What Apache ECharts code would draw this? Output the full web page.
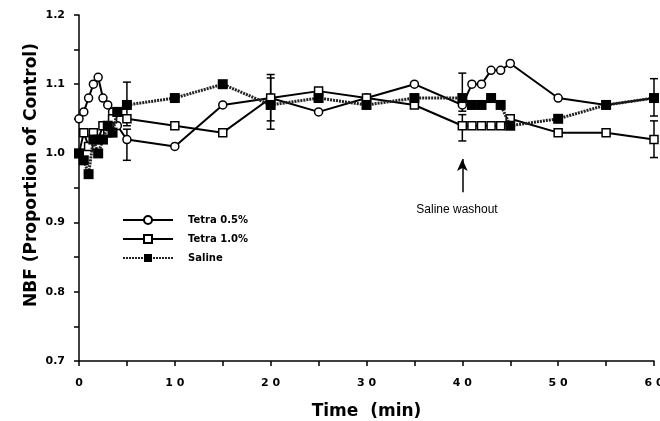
<!DOCTYPE html>
<html><head><meta charset="utf-8">
<script src="https://cdn.jsdelivr.net/npm/echarts@6/dist/echarts.min.js"></script>
<style>html,body{margin:0;padding:0;background:#fff}#c{width:660px;height:421px}</style>
</head><body><div id="c"></div>
<script>
const times   = [0,0.5,1,1.5,2,2.5,3,3.5,4,5,10,15,20,25,30,35,40,41,42,43,44,45,50,55,60];
const tetra05 = [1.05,1.06,1.08,1.10,1.11,1.08,1.07,1.06,1.04,1.02,1.01,1.07,1.08,1.06,1.08,1.10,1.07,1.10,1.10,1.12,1.12,1.13,1.08,1.07,1.08];
const tetra10 = [1.00,1.03,1.01,1.03,1.02,1.04,1.03,1.05,1.06,1.05,1.04,1.03,1.08,1.09,1.08,1.07,1.04,1.04,1.04,1.04,1.04,1.05,1.03,1.03,1.02];
const saline  = [1.00,0.99,0.97,1.02,1.00,1.02,1.04,1.03,1.06,1.07,1.08,1.10,1.07,1.08,1.07,1.08,1.08,1.07,1.07,1.08,1.07,1.04,1.05,1.07,1.08];
const errTimes = [5,5,20,20,40,40,60,60];
const errLow   = [0.99,1.04,1.035,1.047,1.018,1.061,0.994,1.054];
const errHigh  = [1.035,1.103,1.114,1.109,1.056,1.116,1.047,1.108];
const xTickLabels = ['0','1 0','2 0','3 0','4 0','5 0','6 0'];
const yTickLabels = ['0.7','0.8','0.9','1.0','1.1','1.2'];
const washoutArrow = [[40,0.944],[40,0.992]];
const seriesNames = ['Tetra 0.5%','Tetra 1.0%','Saline'];

const pair = arr => times.map((t,i)=>[t,arr[i]]);
const errData = errTimes.map((t,i)=>[t,errLow[i],errHigh[i]]);
const chart = echarts.init(document.getElementById('c'), null, {renderer:'canvas'});
const axisFont = {fontFamily:'DejaVu Sans', fontWeight:'bold', fontSize:11, color:'#000'};
chart.setOption({
  animation:false,
  backgroundColor:'#fff',
  grid:{left:79,right:6,top:15,bottom:60,containLabel:false,outerBoundsMode:'none'},
  legend:{
    data:seriesNames, orient:'vertical', left:117, top:210, itemWidth:50, itemHeight:10, itemGap:9,
    textStyle:{fontFamily:'DejaVu Sans',fontWeight:'bold',fontSize:10,color:'#000',padding:[0,0,0,10]}
  },
  xAxis:{
    type:'value', min:0, max:60, interval:10,
    axisLine:{lineStyle:{color:'#000',width:1.5}},
    axisTick:{show:true,length:5,lineStyle:{color:'#000',width:1.5}},
    minorTick:{show:true,splitNumber:2,length:5,lineStyle:{color:'#000',width:1.5}},
    splitLine:{show:false},
    axisLabel:Object.assign({margin:17, formatter:v=>xTickLabels[Math.round(v/10)]}, axisFont),
    name:'Time  (min)', nameLocation:'middle', nameGap:42,
    nameTextStyle:{fontFamily:'DejaVu Sans',fontWeight:'bold',fontSize:17,color:'#000'}
  },
  yAxis:{
    type:'value', min:0.7, max:1.2, interval:0.1,
    axisLine:{show:true,lineStyle:{color:'#000',width:1.5}},
    axisTick:{show:true,length:5,lineStyle:{color:'#000',width:1.5}},
    minorTick:{show:true,splitNumber:2,length:5,lineStyle:{color:'#000',width:1.5}},
    splitLine:{show:false},
    axisLabel:Object.assign({margin:14, formatter:v=>yTickLabels[Math.round((v-0.7)/0.1)]}, axisFont)
  },
  graphic:[
    {type:'text', x:32, y:175, rotation:Math.PI/2,
     style:{text:'NBF (Proportion of Control)', fill:'#000', font:'bold 17px "DejaVu Sans"', align:'center', verticalAlign:'middle'}},
    {type:'text', x:457, y:210,
     style:{text:'Saline washout', fill:'#000', font:'12px "Liberation Sans"', align:'center', verticalAlign:'middle'}}
  ],
  series:[
    {type:'custom', silent:true, z:1, data:errData, encode:{x:0,y:[1,2]},
     renderItem:function(params, api){
       const x = api.value(0), lo = api.value(1), hi = api.value(2);
       const p1 = api.coord([x,lo]), p2 = api.coord([x,hi]); const w = 4;
       const st = {stroke:'#000', lineWidth:1.5};
       return {type:'group', children:[
         {type:'line', shape:{x1:p1[0],y1:p1[1],x2:p2[0],y2:p2[1]}, style:st},
         {type:'line', shape:{x1:p1[0]-w,y1:p1[1],x2:p1[0]+w,y2:p1[1]}, style:st},
         {type:'line', shape:{x1:p2[0]-w,y1:p2[1],x2:p2[0]+w,y2:p2[1]}, style:st}
       ]};
     }},
    {name:seriesNames[0], type:'line', z:2, data:pair(tetra05), symbol:'circle', symbolSize:8,
     itemStyle:{color:'#fff',borderColor:'#000',borderWidth:1.5},
     lineStyle:{color:'#000',width:2}},
    {name:seriesNames[1], type:'line', z:3, data:pair(tetra10), symbol:'rect', symbolSize:8,
     itemStyle:{color:'#fff',borderColor:'#000',borderWidth:1.5},
     lineStyle:{color:'#000',width:2}},
    {name:seriesNames[2], type:'line', z:4, data:pair(saline), symbol:'rect', symbolSize:10,
     itemStyle:{color:'#000',borderColor:'#000',borderWidth:0},
     lineStyle:{color:'#222',width:3,type:[2,1]},
     markLine:{silent:true, symbol:['none','arrow'], symbolSize:[8,12], label:{show:false},
       lineStyle:{color:'#000',width:1.5,type:'solid'},
       data:[[{coord:washoutArrow[0]},{coord:washoutArrow[1]}]]}}
  ]
});
</script></body></html>
